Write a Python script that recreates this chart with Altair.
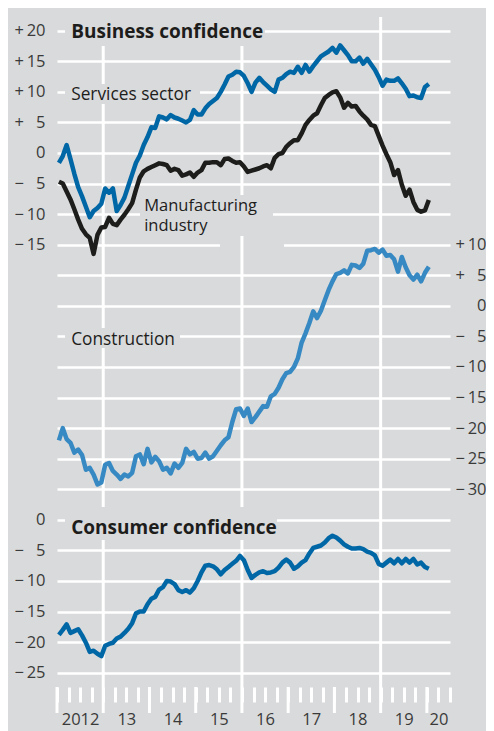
import altair as alt
import pandas as pd

# ---------------- data (monthly, Jan 2012 - Jan 2020) ----------------
FIRST_YEAR = 2012

services = [
    -1.6, -0.5, 1.3, -1.0, -3.4, -5.6, -7.1, -8.8, -10.5, -9.5, -9.0, -8.3,
    -5.8, -6.5, -5.8, -9.5, -8.5, -7.3, -5.4, -3.5, -1.6, -0.4, 1.3, 2.6,
    4.2, 4.1, 6.0, 5.8, 5.5, 6.2, 5.8, 5.6, 5.3, 5.0, 5.4, 7.0,
    6.3, 6.3, 7.3, 8.0, 8.5, 9.0, 10.0, 11.2, 12.5, 12.8, 13.3, 13.2,
    12.6, 11.4, 10.0, 11.5, 12.3, 11.6, 11.0, 10.4, 10.0, 12.0, 12.3, 12.9,
    13.3, 13.1, 14.1, 13.1, 14.4, 13.3, 14.2, 15.0, 15.8, 16.2, 16.6, 17.2,
    16.4, 17.6, 16.8, 16.0, 15.0, 15.0, 15.6, 14.6, 15.4, 14.5, 13.6, 12.4,
    11.0, 12.0, 11.8, 11.8, 12.2, 11.4, 10.5, 9.3, 9.4, 9.1, 9.0, 10.8,
    11.3,
]

manufacturing = [
    -4.7, -5.0, -6.3, -7.6, -9.2, -10.9, -12.4, -13.3, -13.9, -16.5, -13.4, -12.2,
    -12.1, -10.6, -11.6, -11.8, -10.9, -10.1, -9.2, -8.2, -6.0, -4.0, -3.0, -2.6,
    -2.3, -2.0, -1.7, -1.8, -2.0, -2.9, -2.6, -2.8, -3.7, -3.5, -3.2, -3.9,
    -3.2, -2.8, -1.6, -1.6, -1.5, -1.5, -2.0, -1.0, -0.9, -1.3, -1.6, -1.5,
    -2.2, -3.1, -2.9, -2.7, -2.5, -2.2, -2.0, -2.5, -0.8, -0.2, 0.0, 1.0,
    1.6, 2.1, 2.1, 3.2, 4.6, 5.4, 6.1, 6.5, 7.8, 9.0, 9.5, 9.9,
    10.1, 9.1, 7.4, 8.2, 7.6, 7.7, 6.8, 6.1, 5.5, 4.6, 4.4, 2.8,
    1.2, -0.2, -1.5, -3.6, -2.8, -5.2, -7.0, -6.0, -8.0, -9.3, -9.6, -9.4,
    -7.7,
]

construction = [
    -22.0, -20.0, -21.8, -22.4, -24.0, -23.5, -24.4, -26.8, -26.5, -27.6, -29.2, -28.9,
    -26.0, -25.7, -27.0, -27.6, -28.3, -27.6, -27.9, -27.3, -24.6, -24.3, -25.9, -23.4,
    -25.6, -24.7, -25.4, -26.8, -26.5, -27.4, -25.8, -26.5, -25.7, -23.4, -24.3, -23.9,
    -25.0, -24.9, -24.0, -25.0, -24.6, -23.7, -22.8, -22.0, -21.5, -19.0, -16.9, -16.8,
    -18.0, -16.8, -19.0, -18.2, -17.3, -16.4, -16.5, -14.8, -14.4, -13.4, -12.0, -11.0,
    -10.8, -10.0, -8.6, -6.0, -4.5, -2.8, -0.9, -2.0, -0.8, 0.9, 2.6, 4.0,
    5.2, 5.4, 5.8, 5.3, 6.7, 6.6, 6.2, 6.9, 9.0, 9.1, 9.3, 8.7,
    9.2, 8.2, 8.3, 7.6, 5.6, 8.0, 6.3, 5.0, 4.3, 5.1, 4.0, 5.4,
    6.4,
]

consumer = [
    -18.8, -18.0, -17.1, -18.5, -18.2, -17.9, -18.9, -20.1, -21.6, -21.4, -21.9, -22.3,
    -20.6, -20.3, -20.1, -19.4, -19.1, -18.5, -17.8, -16.9, -15.3, -15.0, -15.0, -13.8,
    -12.9, -12.6, -11.4, -11.0, -10.0, -10.1, -10.5, -11.5, -11.8, -11.5, -11.9, -11.2,
    -10.0, -8.6, -7.5, -7.4, -7.6, -8.1, -8.9, -8.2, -7.7, -7.2, -6.7, -5.9,
    -6.6, -8.2, -9.5, -9.0, -8.6, -8.4, -8.7, -8.6, -8.4, -7.8, -7.0, -6.5,
    -7.0, -8.0, -7.6, -7.0, -6.6, -5.5, -4.6, -4.4, -4.2, -3.7, -3.0, -2.6,
    -2.9, -3.4, -4.0, -4.4, -4.7, -4.7, -4.6, -4.8, -5.2, -5.4, -5.8, -7.2,
    -7.5, -7.0, -6.5, -7.1, -6.4, -7.1, -6.4, -7.0, -6.4, -7.3, -7.0, -7.7,
    -8.0,
]

series_names = ["Services sector", "Manufacturing industry", "Construction", "Consumer confidence"]
series_values = [services, manufacturing, construction, consumer]
series_colors = ["#0067a6", "#1d1d1b", "#3689c2", "#0067a6"]

# the three panels share one vertical grid; each panel is shifted down the grid
panel_shift = {"Services sector": 0, "Manufacturing industry": 0,
               "Construction": -25, "Consumer confidence": -60}

label_texts = ["Business confidence", "Services sector", "Manufacturing\nindustry",
               "Construction", "Consumer confidence"]
year_starts = list(range(2012, 2021))

# ---------------- styling ----------------
BG = "#d9dadb"
FONT = "Open Sans"
TXT = "#1d1d1b"
AX = "#3a3a3a"
X_DOM = [2012, 2020.5]
Y_DOM = [-87.34, 22.24]
PLOT_W, PLOT_H = 393, 670
PX_PER_UNIT = PLOT_H / (Y_DOM[1] - Y_DOM[0])

rows = []
for name, vals in zip(series_names, series_values):
    for i, v in enumerate(vals):
        rows.append({"series": name, "t": FIRST_YEAR + (i + 0.5) / 12, "value": v,
                     "pos": v + panel_shift[name]})
df = pd.DataFrame(rows)

labels = pd.DataFrame({
    "text": label_texts,
    "t": [2012.307, 2012.307, 2013.886, 2012.307, 2012.307],
    "pos": [19.85, 9.52, -8.6, -30.56, -61.4],
    "kind": ["title", "series", "series2", "series", "title"],
})

# grey boxes behind the panel labels (they interrupt the white grid lines)
label_boxes = pd.DataFrame({
    "t0": [2012.173, 2012.173, 2013.795, 2012.173, 2012.173],
    "t1": [2016.498, 2015.093, 2016.671, 2014.660, 2016.758],
    "p0": [22.24, 11.28, -6.87, -28.63, -57.9],
    "p1": [17.5, 8.01, -13.58, -31.9, -63.3],
})
# gap in the shared grid line where the business and construction panels meet
grid_gap = pd.DataFrame({"t0": [2015.525], "t1": [2016.909], "p0": [-14.2], "p1": [-16.4]})

year_ticks = pd.DataFrame({
    "t": year_starts,
    "y0": Y_DOM[0],
    "y1": Y_DOM[0] - 26 / PX_PER_UNIT,
})

xscale = alt.Scale(domain=X_DOM, nice=False, zero=False)
yscale = alt.Scale(domain=Y_DOM, nice=False, zero=False)

MINUS = "\u2212"
FIG = "\u2007"
THIN = "\u2009"


def signed(e):
    return (f"(({e}) > 0 ? '+{THIN}' : ({e}) < 0 ? '{MINUS}{THIN}' : '') + "
            f"(abs({e}) == 0 ? '0' : ((abs({e}) < 10 ? '{FIG}' : '') + abs({e})))")


grid_vals = [20 - 5 * i for i in range(22)]
left_expr = (f"datum.value > -16 ? ({signed('datum.value')}) : "
             f"(datum.value < -59 ? ({signed('datum.value + 60')}) : '')")
right_vals = [-15 - 5 * i for i in range(9)]
right_expr = signed("datum.value + 25")

quarters = [2012 + q * 0.25 for q in range(35)]
x_expr = ("datum.value == 2012.5 ? '2012' : (datum.value == 2020.25 ? '20' : "
          "((datum.value - floor(datum.value) == 0.5 && datum.value < 2020) ? '' + (floor(datum.value) - 2000) : ''))")

x_axis = alt.Axis(values=quarters, labelExpr=x_expr, domain=False, grid=False,
                  ticks=True, tickColor="white", tickWidth=3, tickSize=15,
                  labelPadding=9, labelFont=FONT, labelFontSize=16.5, labelColor=AX,
                  labelOverlap=False, labelFlush=False, title=None)

left_axis = alt.Axis(orient="left", values=grid_vals, labelExpr=left_expr, grid=True,
                     gridColor="white", gridWidth=2.6, gridOpacity=1, ticks=False, domain=False,
                     labelPadding=12, labelFont=FONT, labelFontSize=16.5, labelColor=AX,
                     labelAlign="right", labelBaseline="middle",
                     title=None, labelOverlap=False)

right_axis = alt.Axis(orient="right", values=right_vals, labelExpr=right_expr, grid=False,
                      ticks=False, domain=False, labelPadding=36, labelFont=FONT, labelFontSize=16.5,
                      labelColor=AX, labelAlign="right", labelBaseline="middle",
                      title=None, labelOverlap=False)

X = alt.X("t:Q", scale=xscale, axis=x_axis)

color = alt.Color("series:N", scale=alt.Scale(domain=series_names, range=series_colors), legend=None)


def box_layer(frame):
    return alt.Chart(frame).mark_rect(color=BG).encode(
        x=alt.X("t0:Q", scale=xscale, axis=x_axis), x2="t1:Q",
        y=alt.Y("p0:Q", scale=yscale, axis=None), y2="p1:Q",
    )


year_lines = alt.Chart(pd.DataFrame({"t": [2013, 2016, 2019]})).mark_rule(
    color="white", strokeWidth=3).encode(x=X)

year_tick_rules = alt.Chart(year_ticks).mark_rule(color="white", strokeWidth=3).encode(
    x=X,
    y=alt.Y("y0:Q", scale=yscale, axis=None),
    y2="y1:Q",
)

LABEL_STYLE = {
    "title": dict(fontSize=19, fontWeight="bold"),
    "series": dict(fontSize=17.3, fontWeight="normal"),
    "series2": dict(fontSize=16.5, fontWeight="normal", lineBreak="\n", lineHeight=20.5),
}


def label_layer(kind):
    return alt.Chart(labels[labels["kind"] == kind]).mark_text(
        align="left", baseline="middle", font=FONT, fill=TXT, **LABEL_STYLE[kind],
    ).encode(
        x=X,
        y=alt.Y("pos:Q", scale=yscale, axis=None),
        text="text:N",
    )


left_lines = alt.Chart(df[df["series"] != "Construction"]).mark_line(
    strokeWidth=4.5, strokeJoin="round").encode(
    x=X,
    y=alt.Y("pos:Q", scale=yscale, axis=left_axis),
    color=color, detail="series:N",
)

right_line = alt.Chart(df[df["series"] == "Construction"]).mark_line(
    strokeWidth=4.5, strokeJoin="round").encode(
    x=X,
    y=alt.Y("pos:Q", scale=yscale, axis=right_axis),
    color=color,
)

chart = alt.layer(
    box_layer(grid_gap), year_lines, year_tick_rules, box_layer(label_boxes),
    left_lines, right_line,
    label_layer("title"), label_layer("series"), label_layer("series2"),
).resolve_axis(y="independent").properties(
    width=PLOT_W, height=PLOT_H, background=BG,
    autosize=alt.AutoSizeParams(type="none"),
    padding={"left": 49, "top": 9, "right": 36, "bottom": 44},
).configure_view(stroke=None)

chart.save("out.html", embed_options={"renderer": "svg", "actions": False})
